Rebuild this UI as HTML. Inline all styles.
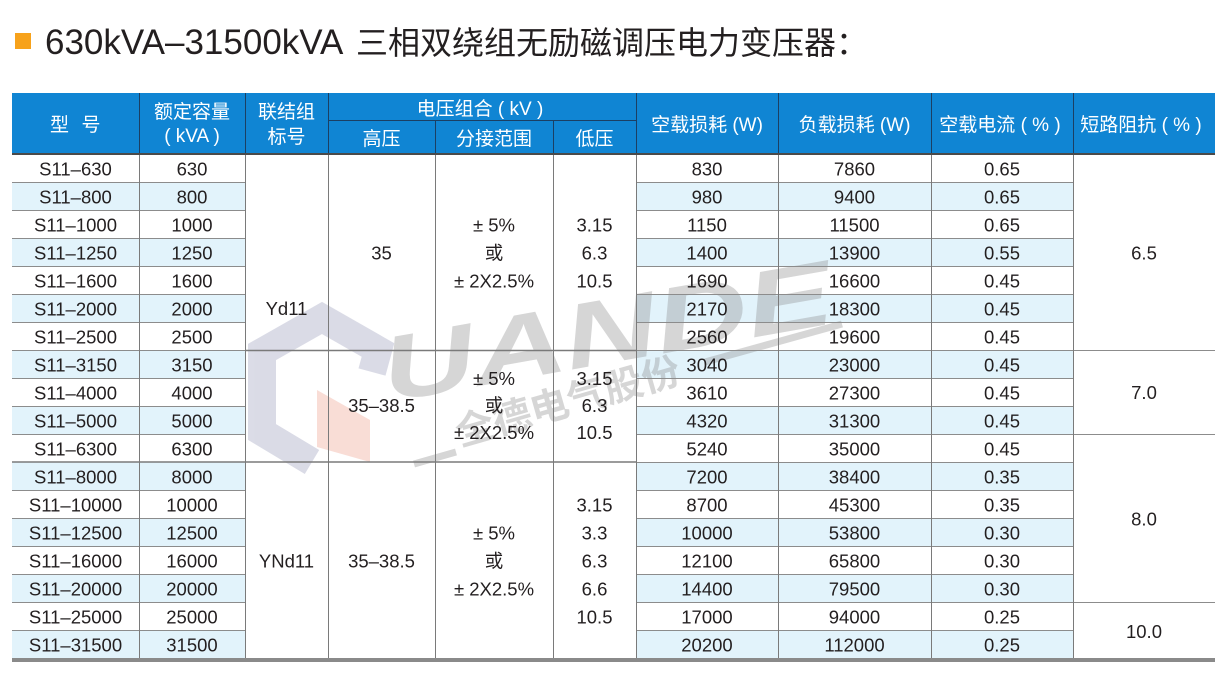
<!DOCTYPE html>
<html>
<head>
<meta charset="utf-8">
<style>
html,body{margin:0;padding:0;background:#fff;}
body{width:1230px;height:676px;overflow:hidden;}
svg{display:block;}
.t{font-family:"Liberation Sans","Noto Sans CJK SC",sans-serif;fill:#231f20;font-size:18.5px;text-anchor:middle;}
.h{font-family:"Liberation Sans","Noto Sans CJK SC",sans-serif;fill:#fff;font-size:19px;text-anchor:middle;}
</style>
</head>
<body>
<svg width="1230" height="676" viewBox="0 0 1230 676" xmlns="http://www.w3.org/2000/svg">
<!-- title -->
<rect x="15" y="33" width="16" height="16" fill="#f7a21b"/>
<text x="45" y="54" style="font-family:'Liberation Sans','Noto Sans CJK SC',sans-serif;fill:#231f20;font-size:35px;">630kVA–31500kVA<tspan x="356" style="font-size:32px">三相双绕组无励磁调压电力变压器：</tspan></text>

<!-- header -->
<rect x="12" y="93" width="1203" height="61" fill="#1085d3"/>
<g stroke="#1b3f63" stroke-width="1">
<line x1="139.5" y1="93" x2="139.5" y2="154"/>
<line x1="245.5" y1="93" x2="245.5" y2="154"/>
<line x1="328.5" y1="93" x2="328.5" y2="154"/>
<line x1="636.5" y1="93" x2="636.5" y2="154"/>
<line x1="778.5" y1="93" x2="778.5" y2="154"/>
<line x1="931.5" y1="93" x2="931.5" y2="154"/>
<line x1="1073.5" y1="93" x2="1073.5" y2="154"/>
<line x1="435.5" y1="120" x2="435.5" y2="154"/>
<line x1="553.5" y1="120" x2="553.5" y2="154"/>
<line x1="328" y1="120.5" x2="636" y2="120.5"/>
</g>

<!-- body row fills -->
<g fill="#e2f3fb">
<rect x="12" y="182" width="233" height="28"/><rect x="636" y="182" width="437" height="28"/>
<rect x="12" y="238" width="233" height="28"/><rect x="636" y="238" width="437" height="28"/>
<rect x="12" y="294" width="233" height="28"/><rect x="636" y="294" width="437" height="28"/>
<rect x="12" y="350" width="233" height="28"/><rect x="636" y="350" width="437" height="28"/>
<rect x="12" y="406" width="233" height="28"/><rect x="636" y="406" width="437" height="28"/>
<rect x="12" y="462" width="233" height="28"/><rect x="636" y="462" width="437" height="28"/>
<rect x="12" y="518" width="233" height="28"/><rect x="636" y="518" width="437" height="28"/>
<rect x="12" y="574" width="233" height="28"/><rect x="636" y="574" width="437" height="28"/>
<rect x="12" y="630" width="233" height="28"/><rect x="636" y="630" width="437" height="28"/>
</g>

<!-- watermark -->
<g opacity="0.34">
<polyline points="372,372 378,350 322,318 262,352 262,432 312,462" fill="none" stroke="#9699b8" stroke-width="28" stroke-linejoin="miter"/>
<polygon points="317,390 370,420 370,462 317,447" fill="#e8826a" opacity="0.8"/>
<text x="388" y="402" transform="rotate(-10 388 402)" textLength="455" lengthAdjust="spacingAndGlyphs" style="font-family:'Liberation Sans',sans-serif;font-weight:bold;font-style:italic;font-size:92px;fill:#8a8a8a;">UANDE</text>
<text x="460" y="446" transform="rotate(-16 460 446)" textLength="232" lengthAdjust="spacingAndGlyphs" style="font-family:'Liberation Sans','Noto Sans CJK SC',sans-serif;font-weight:bold;font-size:38px;fill:#8a8a8a;">全德电气股份</text>
<line x1="414" y1="464" x2="456" y2="452" stroke="#8a8a8a" stroke-width="7"/>
<line x1="705" y1="362" x2="842" y2="324" stroke="#8a8a8a" stroke-width="7"/>
</g>

<!-- horizontal body lines -->
<g stroke="#8c8c8c" stroke-width="1">
<line x1="12" y1="182.5" x2="245" y2="182.5"/><line x1="636" y1="182.5" x2="1073" y2="182.5"/>
<line x1="12" y1="210.5" x2="245" y2="210.5"/><line x1="636" y1="210.5" x2="1073" y2="210.5"/>
<line x1="12" y1="238.5" x2="245" y2="238.5"/><line x1="636" y1="238.5" x2="1073" y2="238.5"/>
<line x1="12" y1="266.5" x2="245" y2="266.5"/><line x1="636" y1="266.5" x2="1073" y2="266.5"/>
<line x1="12" y1="294.5" x2="245" y2="294.5"/><line x1="636" y1="294.5" x2="1073" y2="294.5"/>
<line x1="12" y1="322.5" x2="245" y2="322.5"/><line x1="636" y1="322.5" x2="1073" y2="322.5"/>
<line x1="12" y1="350.5" x2="245" y2="350.5"/><line x1="636" y1="350.5" x2="1073" y2="350.5"/>
<line x1="12" y1="378.5" x2="245" y2="378.5"/><line x1="636" y1="378.5" x2="1073" y2="378.5"/>
<line x1="12" y1="406.5" x2="245" y2="406.5"/><line x1="636" y1="406.5" x2="1073" y2="406.5"/>
<line x1="12" y1="434.5" x2="245" y2="434.5"/><line x1="636" y1="434.5" x2="1073" y2="434.5"/>
<line x1="636" y1="462.5" x2="1073" y2="462.5"/>
<line x1="12" y1="490.5" x2="245" y2="490.5"/><line x1="636" y1="490.5" x2="1073" y2="490.5"/>
<line x1="12" y1="518.5" x2="245" y2="518.5"/><line x1="636" y1="518.5" x2="1073" y2="518.5"/>
<line x1="12" y1="546.5" x2="245" y2="546.5"/><line x1="636" y1="546.5" x2="1073" y2="546.5"/>
<line x1="12" y1="574.5" x2="245" y2="574.5"/><line x1="636" y1="574.5" x2="1073" y2="574.5"/>
<line x1="12" y1="602.5" x2="245" y2="602.5"/><line x1="636" y1="602.5" x2="1073" y2="602.5"/>
<line x1="12" y1="630.5" x2="245" y2="630.5"/><line x1="636" y1="630.5" x2="1073" y2="630.5"/>
<line x1="1073" y1="350.5" x2="1215" y2="350.5"/>
<line x1="1073" y1="434.5" x2="1215" y2="434.5"/>
<line x1="1073" y1="602.5" x2="1215" y2="602.5"/>
</g>
<g stroke="#7a7a7a" stroke-width="1.6">
<line x1="245" y1="350.5" x2="636" y2="350.5"/>
<line x1="12" y1="462" x2="636" y2="462"/>
</g>

<!-- vertical body lines -->
<g stroke="#7a7a7a" stroke-width="1">
<line x1="139.5" y1="154" x2="139.5" y2="658"/>
<line x1="245.5" y1="154" x2="245.5" y2="658"/>
<line x1="328.5" y1="154" x2="328.5" y2="658"/>
<line x1="435.5" y1="154" x2="435.5" y2="658"/>
<line x1="553.5" y1="154" x2="553.5" y2="658"/>
<line x1="636.5" y1="154" x2="636.5" y2="658"/>
<line x1="778.5" y1="154" x2="778.5" y2="658"/>
<line x1="931.5" y1="154" x2="931.5" y2="658"/>
<line x1="1073.5" y1="154" x2="1073.5" y2="658"/>
</g>

<!-- header bottom line & table bottom bar -->
<rect x="12" y="153" width="1203" height="2" fill="#4a4a4a"/>
<rect x="12" y="658" width="1203" height="4" fill="#8a8a8a"/>

<!-- header text -->
<text class="h" x="59.5" y="131">型</text>
<text class="h" x="91" y="131">号</text>
<text class="h" x="192" y="118">额定容量</text>
<text class="h" x="192" y="142">( kVA )</text>
<text class="h" x="286.5" y="118">联结组</text>
<text class="h" x="286.5" y="143">标号</text>
<text class="h" x="480" y="115">电压组合 ( kV )</text>
<text class="h" x="381.5" y="145">高压</text>
<text class="h" x="494" y="145">分接范围</text>
<text class="h" x="594.5" y="145">低压</text>
<text class="h" x="707" y="131">空载损耗 (W)</text>
<text class="h" x="854.5" y="131">负载损耗 (W)</text>
<text class="h" x="1000" y="131">空载电流 ( % )</text>
<text class="h" x="1141" y="131">短路阻抗 ( % )</text>

<!-- body text -->
<g class="t">
<text class="t" x="75.5" y="175.5">S11–630</text><text class="t" x="192" y="175.5">630</text><text class="t" x="707" y="175.5">830</text><text class="t" x="854.5" y="175.5">7860</text><text class="t" x="1002" y="175.5">0.65</text>
<text class="t" x="75.5" y="203.5">S11–800</text><text class="t" x="192" y="203.5">800</text><text class="t" x="707" y="203.5">980</text><text class="t" x="854.5" y="203.5">9400</text><text class="t" x="1002" y="203.5">0.65</text>
<text class="t" x="75.5" y="231.5">S11–1000</text><text class="t" x="192" y="231.5">1000</text><text class="t" x="707" y="231.5">1150</text><text class="t" x="854.5" y="231.5">11500</text><text class="t" x="1002" y="231.5">0.65</text>
<text class="t" x="75.5" y="259.5">S11–1250</text><text class="t" x="192" y="259.5">1250</text><text class="t" x="707" y="259.5">1400</text><text class="t" x="854.5" y="259.5">13900</text><text class="t" x="1002" y="259.5">0.55</text>
<text class="t" x="75.5" y="287.5">S11–1600</text><text class="t" x="192" y="287.5">1600</text><text class="t" x="707" y="287.5">1690</text><text class="t" x="854.5" y="287.5">16600</text><text class="t" x="1002" y="287.5">0.45</text>
<text class="t" x="75.5" y="315.5">S11–2000</text><text class="t" x="192" y="315.5">2000</text><text class="t" x="707" y="315.5">2170</text><text class="t" x="854.5" y="315.5">18300</text><text class="t" x="1002" y="315.5">0.45</text>
<text class="t" x="75.5" y="343.5">S11–2500</text><text class="t" x="192" y="343.5">2500</text><text class="t" x="707" y="343.5">2560</text><text class="t" x="854.5" y="343.5">19600</text><text class="t" x="1002" y="343.5">0.45</text>
<text class="t" x="75.5" y="371.5">S11–3150</text><text class="t" x="192" y="371.5">3150</text><text class="t" x="707" y="371.5">3040</text><text class="t" x="854.5" y="371.5">23000</text><text class="t" x="1002" y="371.5">0.45</text>
<text class="t" x="75.5" y="399.5">S11–4000</text><text class="t" x="192" y="399.5">4000</text><text class="t" x="707" y="399.5">3610</text><text class="t" x="854.5" y="399.5">27300</text><text class="t" x="1002" y="399.5">0.45</text>
<text class="t" x="75.5" y="427.5">S11–5000</text><text class="t" x="192" y="427.5">5000</text><text class="t" x="707" y="427.5">4320</text><text class="t" x="854.5" y="427.5">31300</text><text class="t" x="1002" y="427.5">0.45</text>
<text class="t" x="75.5" y="455.5">S11–6300</text><text class="t" x="192" y="455.5">6300</text><text class="t" x="707" y="455.5">5240</text><text class="t" x="854.5" y="455.5">35000</text><text class="t" x="1002" y="455.5">0.45</text>
<text class="t" x="75.5" y="483.5">S11–8000</text><text class="t" x="192" y="483.5">8000</text><text class="t" x="707" y="483.5">7200</text><text class="t" x="854.5" y="483.5">38400</text><text class="t" x="1002" y="483.5">0.35</text>
<text class="t" x="75.5" y="511.5">S11–10000</text><text class="t" x="192" y="511.5">10000</text><text class="t" x="707" y="511.5">8700</text><text class="t" x="854.5" y="511.5">45300</text><text class="t" x="1002" y="511.5">0.35</text>
<text class="t" x="75.5" y="539.5">S11–12500</text><text class="t" x="192" y="539.5">12500</text><text class="t" x="707" y="539.5">10000</text><text class="t" x="854.5" y="539.5">53800</text><text class="t" x="1002" y="539.5">0.30</text>
<text class="t" x="75.5" y="567.5">S11–16000</text><text class="t" x="192" y="567.5">16000</text><text class="t" x="707" y="567.5">12100</text><text class="t" x="854.5" y="567.5">65800</text><text class="t" x="1002" y="567.5">0.30</text>
<text class="t" x="75.5" y="595.5">S11–20000</text><text class="t" x="192" y="595.5">20000</text><text class="t" x="707" y="595.5">14400</text><text class="t" x="854.5" y="595.5">79500</text><text class="t" x="1002" y="595.5">0.30</text>
<text class="t" x="75.5" y="623.5">S11–25000</text><text class="t" x="192" y="623.5">25000</text><text class="t" x="707" y="623.5">17000</text><text class="t" x="854.5" y="623.5">94000</text><text class="t" x="1002" y="623.5">0.25</text>
<text class="t" x="75.5" y="651.5">S11–31500</text><text class="t" x="192" y="651.5">31500</text><text class="t" x="707" y="651.5">20200</text><text class="t" x="854.5" y="651.5">112000</text><text class="t" x="1002" y="651.5">0.25</text>

<text class="t" x="286.5" y="315">Yd11</text>
<text class="t" x="286.5" y="567.5">YNd11</text>

<text class="t" x="381.5" y="259.5">35</text>
<text class="t" x="494" y="231.5">± 5%</text>
<text class="t" x="494" y="259.5">或</text>
<text class="t" x="494" y="287.5">± 2X2.5%</text>
<text class="t" x="594.5" y="231.5">3.15</text>
<text class="t" x="594.5" y="259.5">6.3</text>
<text class="t" x="594.5" y="287.5">10.5</text>

<text class="t" x="381.5" y="412">35–38.5</text>
<text class="t" x="494" y="385">± 5%</text>
<text class="t" x="494" y="412">或</text>
<text class="t" x="494" y="439">± 2X2.5%</text>
<text class="t" x="594.5" y="385">3.15</text>
<text class="t" x="594.5" y="412">6.3</text>
<text class="t" x="594.5" y="439">10.5</text>

<text class="t" x="381.5" y="567.5">35–38.5</text>
<text class="t" x="494" y="539.5">± 5%</text>
<text class="t" x="494" y="567.5">或</text>
<text class="t" x="494" y="595.5">± 2X2.5%</text>
<text class="t" x="594.5" y="511.5">3.15</text>
<text class="t" x="594.5" y="539.5">3.3</text>
<text class="t" x="594.5" y="567.5">6.3</text>
<text class="t" x="594.5" y="595.5">6.6</text>
<text class="t" x="594.5" y="623.5">10.5</text>

<text class="t" x="1144" y="259.5">6.5</text>
<text class="t" x="1144" y="399">7.0</text>
<text class="t" x="1144" y="525.5">8.0</text>
<text class="t" x="1144" y="638">10.0</text>
</g>
</svg>
</body>
</html>
